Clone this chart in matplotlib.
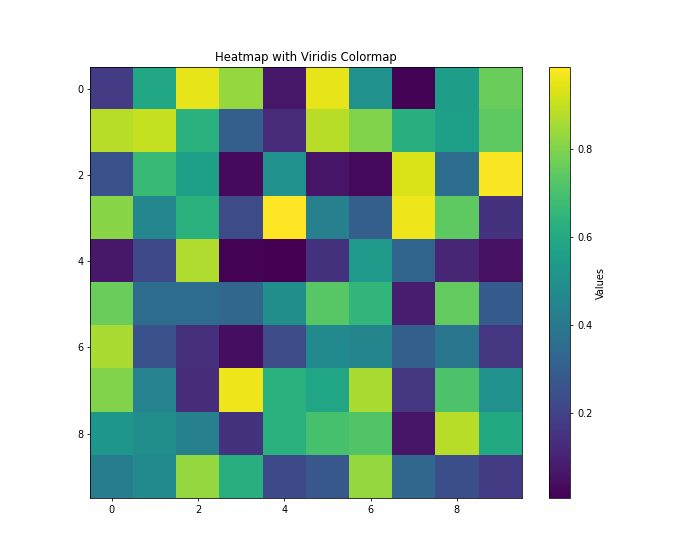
import numpy as np
import matplotlib
matplotlib.use("Agg")
import matplotlib.pyplot as plt

# valores, fila por fila
fila0 = [0.18, 0.59, 0.95, 0.83, 0.07, 0.95, 0.50, 0.01, 0.55, 0.76]
fila1 = [0.88, 0.90, 0.63, 0.30, 0.12, 0.88, 0.80, 0.62, 0.56, 0.74]
fila2 = [0.25, 0.67, 0.56, 0.03, 0.50, 0.06, 0.03, 0.93, 0.36, 0.98]
fila3 = [0.81, 0.46, 0.63, 0.23, 0.985, 0.43, 0.30, 0.96, 0.74, 0.15]
fila4 = [0.07, 0.22, 0.87, 0.01, 0.005, 0.15, 0.53, 0.32, 0.11, 0.05]
fila5 = [0.76, 0.35, 0.35, 0.33, 0.49, 0.73, 0.65, 0.08, 0.75, 0.29]
fila6 = [0.86, 0.25, 0.14, 0.04, 0.23, 0.47, 0.45, 0.30, 0.39, 0.16]
fila7 = [0.80, 0.44, 0.13, 0.96, 0.63, 0.58, 0.86, 0.16, 0.71, 0.50]
fila8 = [0.52, 0.49, 0.43, 0.15, 0.63, 0.70, 0.72, 0.06, 0.88, 0.60]
fila9 = [0.42, 0.47, 0.83, 0.62, 0.22, 0.27, 0.83, 0.33, 0.24, 0.18]

datos = np.array([fila0, fila1, fila2, fila3, fila4,
                  fila5, fila6, fila7, fila8, fila9])

plt.figure(figsize=(10, 8), dpi=70)
im = plt.imshow(datos, cmap="viridis")
plt.colorbar(im, label="Values")
plt.title("Heatmap with Viridis Colormap")
plt.savefig("out.png", dpi=70)
